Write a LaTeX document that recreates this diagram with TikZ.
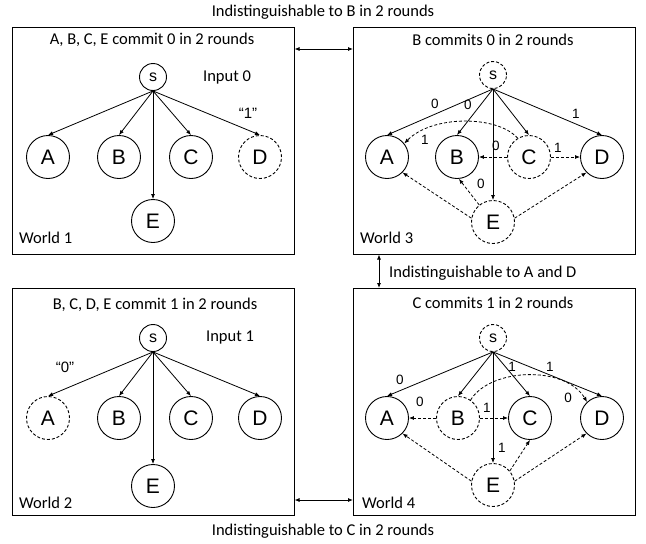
\documentclass[tikz,border=0pt]{standalone}
\usepackage{fontspec}
\setmainfont{Carlito}
\newfontfamily\arialf{Liberation Sans}
\usetikzlibrary{arrows.meta}
\begin{document}
\begin{tikzpicture}[x=1pt,y=-1pt,
 wbox/.style={draw, line width=1pt, minimum width=282pt, minimum height=227pt, inner sep=0pt},
 pn/.style={circle, draw, line width=0.9pt, minimum size=43pt, inner sep=0pt, font=\arialf\fontsize{21}{21}\selectfont},
 sn/.style={circle, draw, line width=0.9pt, minimum size=27pt, inner sep=0pt, font=\arialf\fontsize{16}{16}\selectfont},
 faulty/.style={dash pattern=on 3pt off 2pt},
 arr/.style={line width=0.8pt, -{Latex[length=5pt,width=4pt]}},
 darr/.style={arr, dash pattern=on 3pt off 2pt},
 biarr/.style={line width=0.8pt, {Latex[length=5pt,width=4pt]}-{Latex[length=5pt,width=4pt]}},
 ttl/.style={font=\fontsize{16.5}{18}\selectfont, inner sep=0pt},
 wl/.style={font=\fontsize{16.5}{18}\selectfont, inner sep=0pt, anchor=west},
 lbl/.style={font=\arialf\fontsize{13.5}{13.5}\selectfont, inner sep=0pt},
 qlbl/.style={font=\arialf\fontsize{15}{15}\selectfont, inner sep=0pt},
]
\useasboundingbox (0,0) rectangle (646,544);

% world boxes
\node[wbox] (w1) at (153,140.5) {};
\node[wbox] (w3) at (494.5,140.5) {};
\node[wbox] (w2) at (153,402) {};
\node[wbox] (w4) at (494.5,402) {};

\draw[biarr] ([yshift=91.5pt]w1.east) -- ([yshift=91.5pt]w3.west);
\draw[biarr] ([xshift=-115.5pt]w3.south) -- ([xshift=-115.5pt]w4.north);
\draw[biarr] ([yshift=-98pt]w2.east) -- ([yshift=-98pt]w4.west);

\node[ttl] (t13) at (323,12) {Indistinguishable to B in 2 rounds};
\node[ttl, anchor=west] (t34) at (389,273) {Indistinguishable to A and D};
\node[ttl] (t24) at (323,531) {Indistinguishable to C in 2 rounds};

% ---------- World 1 ----------
\node[ttl] (h1) at (152,40) {A, B, C, E commit 0 in 2 rounds};
\node[wl] (wl1) at (19,238) {World 1};
\node[ttl] (in1) at (227,77) {Input 0};
\node[sn] (s1) at (153,77) {s};
\node[pn] (A1) at (48,157) {A};
\node[pn] (B1) at (119,157) {B};
\node[pn] (C1) at (191,157) {C};
\node[pn, faulty] (D1) at (260,157) {D};
\node[pn] (E1) at (153,221) {E};
\foreach \n in {A1,B1,C1,D1,E1} \draw[arr] (s1.south) -- (\n.north);
\node[qlbl] (q1) at (248,113) {“1”};

% ---------- World 2 ----------
\node[ttl] (h2) at (155,305) {B, C, D, E commit 1 in 2 rounds};
\node[wl] (wl2) at (19,503) {World 2};
\node[ttl] (in2) at (230,338) {Input 1};
\node[sn] (s2) at (153,338) {s};
\node[pn, faulty] (A2) at (48,418) {A};
\node[pn] (B2) at (119,418) {B};
\node[pn] (C2) at (191,418) {C};
\node[pn] (D2) at (260,418) {D};
\node[pn] (E2) at (153,486) {E};
\foreach \n in {A2,B2,C2,D2,E2} \draw[arr] (s2.south) -- (\n.north);
\node[qlbl] (q2) at (65,367) {“0”};

% ---------- World 3 ----------
\node[ttl] (h3) at (493,40) {B commits 0 in 2 rounds};
\node[wl] (wl3) at (360,238) {World 3};
\node[sn, faulty] (s3) at (493,75) {s};
\node[pn] (A3) at (387,157) {A};
\node[pn] (B3) at (457,157) {B};
\node[pn, faulty] (C3) at (529,157) {C};
\node[pn] (D3) at (602,157) {D};
\node[pn, faulty] (E3) at (493,222) {E};
\foreach \n in {A3,B3,C3,D3,E3} \draw[arr] (s3.south) -- (\n.north);
\draw[darr] (C3.121) .. controls (497,115) and (432,115) .. (A3.38);
\draw[darr] (C3.west) -- (B3.east);
\draw[darr] (C3.east) -- (D3.west);
\draw[darr] (E3.170) -- (A3.-45);
\draw[darr] (E3.129) -- (B3.-85);
\draw[darr] (E3.10) -- (D3.-135);
\node[lbl] (l31) at (435,104) {0};
\node[lbl] (l32) at (468,105) {0};
\node[lbl] (l33) at (576,114) {1};
\node[lbl] (l34) at (425,140) {1};
\node[lbl] (l35) at (496,146) {0};
\node[lbl] (l36) at (558,148) {1};
\node[lbl] (l37) at (481,184) {0};

% ---------- World 4 ----------
\node[ttl] (h4) at (493,303) {C commits 1 in 2 rounds};
\node[wl] (wl4) at (362,503) {World 4};
\node[sn, faulty] (s4) at (493,338) {s};
\node[pn] (A4) at (387,418) {A};
\node[pn, faulty] (B4) at (458,418) {B};
\node[pn] (C4) at (530,418) {C};
\node[pn] (D4) at (602,418) {D};
\node[pn, faulty] (E4) at (493,485) {E};
\foreach \n in {A4,B4,C4,D4,E4} \draw[arr] (s4.south) -- (\n.north);
\draw[darr] (B4.west) -- (A4.east);
\draw[darr] (B4.east) -- (C4.west);
\draw[darr] (B4.55) .. controls (490,368) and (565,365) .. (D4.133);
\draw[darr] (E4.170) -- (A4.-45);
\draw[darr] (E4.40) -- (C4.-90);
\draw[darr] (E4.10) -- (D4.-135);
\node[lbl] (l41) at (400,380) {0};
\node[lbl] (l42) at (512,367) {1};
\node[lbl] (l43) at (550,367) {1};
\node[lbl] (l44) at (420,402) {0};
\node[lbl] (l45) at (487,408) {1};
\node[lbl] (l46) at (568,398) {0};
\node[lbl] (l47) at (502,448) {1};
\end{tikzpicture}
\end{document}
